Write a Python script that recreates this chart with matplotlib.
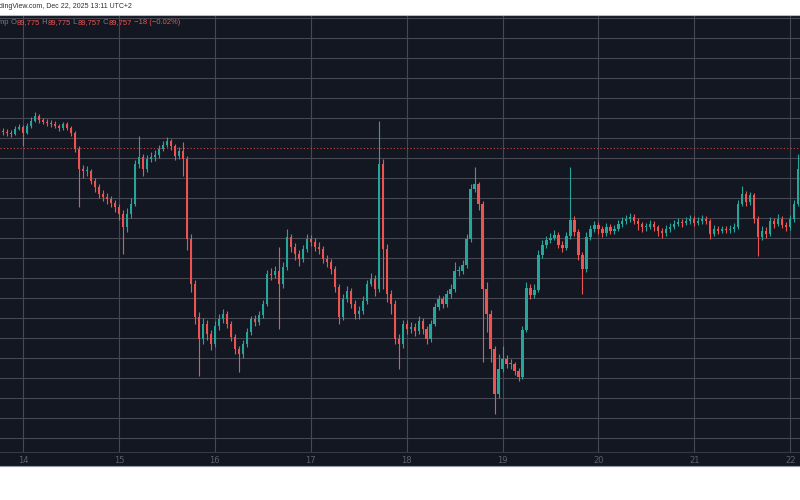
import matplotlib
matplotlib.use("Agg")
import matplotlib.pyplot as plt
import numpy as np
from matplotlib.patches import Rectangle
from matplotlib.lines import Line2D

# hourly candles, hour 0 = Dec 14 00:00 (UTC+2); first candle is Dec 13 18:00
FIRST_HOUR = -6
FIRST_OPEN = 90210

CLOSES = [
    90182, 90157, 90132, 90107, 90232, 90282,
    90132, 90307, 90432, 90557, 90457, 90407, 90382, 90357, 90307, 90257,
    90357, 90257, 90132, 89732, 89232, 89182, 89182, 88932, 88782, 88607,
    88532, 88482, 88382, 88282, 88107, 87782, 88107, 88357, 89357, 89532,
    89232, 89482, 89532, 89582, 89732, 89832, 89932, 89807, 89557, 89682,
    89482, 87482, 86357, 85532, 84982, 85357, 85107, 84857, 85307, 85482,
    85607, 85357, 85032, 84732, 84607, 84857, 85157, 85482, 85407, 85582,
    85857, 86607, 86582, 86682, 86357, 86782, 87532, 87282, 87107, 86982,
    87232, 87482, 87407, 87282, 87232, 86982, 86907, 86732, 86282, 85532,
    85982, 86182, 85857, 85607, 85682, 85932, 86357, 86482, 86232, 89357,
    87232, 86107, 85857, 84982, 84857, 85357, 85232, 85282, 85182, 85432,
    85232, 84982, 85357, 85782, 85982, 85857, 86107, 86232, 86682, 86682,
    86832, 87482, 88732, 88857, 88357, 86232, 85607, 84732, 83607, 84232,
    84482, 84357, 84357, 84182, 84032, 85207, 86257, 86082, 86207, 87082,
    87332, 87457, 87507, 87582, 87332, 87257, 87557, 87957, 87657, 87082,
    86732, 87532, 87732, 87832, 87732, 87632, 87782, 87682, 87732, 87857,
    87932, 87982, 88032, 87932, 87857, 87782, 87782, 87857, 87782, 87682,
    87632, 87732, 87782, 87857, 87907, 87882, 87932, 87982, 87882, 87932,
    87982, 87932, 87607, 87732, 87682, 87732, 87707, 87732, 87782, 88357,
    88607, 88407, 88582, 87982, 87532, 87682, 87607, 87932, 87857, 87982,
    87832, 87782, 87982, 88357, 89232,
]

HIGHS = [
    90300, 90260, 90230, 90200, 90290, 90360,
    90330, 90380, 90520, 90640, 90600, 90510, 90470, 90450, 90420, 90350,
    90410, 90400, 90300, 90180, 89800, 89330, 89290, 89230, 89010, 88850,
    88700, 88620, 88560, 88450, 88350, 88200, 88250, 88500, 89450, 90060,
    89600, 89580, 89650, 89700, 89820, 89930, 90020, 89980, 89850, 89780,
    89900, 89560, 87600, 86450, 85650, 85500, 85450, 85200, 85420, 85600,
    85720, 85680, 85420, 85100, 84800, 84950, 85250, 85560, 85580, 85680,
    85950, 86700, 86750, 86800, 87280, 86900, 87730, 87600, 87380, 87200,
    87330, 87600, 87580, 87500, 87400, 87300, 87080, 86980, 86800, 86350,
    86100, 86300, 86250, 85950, 85800, 86050, 86450, 86620, 86580, 90430,
    89480, 87350, 86200, 85950, 85100, 85450, 85450, 85400, 85380, 85550,
    85500, 85300, 85450, 85880, 86080, 86050, 86200, 86350, 86910, 86800,
    86950, 87600, 88850, 89280, 88900, 88420, 86400, 85700, 84800, 84600,
    84800, 84580, 84480, 84400, 84250, 85300, 86400, 86350, 86350, 87200,
    87450, 87560, 87620, 87700, 87650, 87420, 87650, 89280, 88050, 87720,
    87150, 87650, 87830, 87920, 87900, 87800, 87870, 87850, 87820, 87950,
    88020, 88080, 88120, 88100, 88000, 87900, 87880, 87950, 87920, 87820,
    87750, 87820, 87880, 87950, 88000, 87980, 88030, 88080, 88050, 88020,
    88070, 88050, 87980, 87830, 87800, 87810, 87800, 87820, 87880, 88450,
    88810, 88680, 88660, 88620, 88050, 87800, 87780, 88030, 88000, 88100,
    88050, 87900, 88080, 88450, 89610,
]

LOWS = [
    90100, 90080, 90040, 90020, 90070, 90190,
    89790, 90090, 90260, 90400, 90380, 90340, 90300, 90280, 90240, 90180,
    90210, 90200, 90060, 89650, 88280, 89000, 89050, 88850, 88650, 88500,
    88420, 88350, 88280, 88150, 87950, 87110, 87650, 88000, 88300, 89250,
    89050, 89150, 89400, 89430, 89500, 89680, 89780, 89700, 89450, 89480,
    89040, 87200, 86150, 85350, 84050, 84850, 84950, 84700, 84780, 85200,
    85380, 85250, 84920, 84600, 84160, 84500, 84780, 85080, 85300, 85330,
    85500, 85800, 86450, 86500, 85230, 86250, 86700, 87150, 86950, 86800,
    86900, 87150, 87300, 87180, 87100, 86880, 86780, 86600, 86150, 85360,
    85450, 85900, 85750, 85480, 85480, 85600, 85850, 86300, 86050, 86150,
    86230, 85900, 85600, 84850, 84230, 84750, 85100, 85130, 85050, 85100,
    85100, 84850, 84900, 85300, 85700, 85750, 85780, 86000, 86150, 86550,
    86600, 86750, 87400, 88650, 88200, 84410, 85150, 84400, 83110, 83500,
    84150, 84250, 84230, 84080, 83930, 83980, 85150, 85980, 85990, 86150,
    87000, 87250, 87380, 87450, 87250, 87150, 87200, 87480, 87550, 86950,
    86110, 86650, 87450, 87650, 87600, 87520, 87550, 87600, 87600, 87680,
    87780, 87850, 87900, 87850, 87700, 87650, 87680, 87720, 87680, 87550,
    87500, 87560, 87650, 87720, 87800, 87780, 87820, 87850, 87800, 87820,
    87860, 87850, 87480, 87550, 87600, 87620, 87620, 87630, 87650, 87720,
    88300, 88300, 88320, 87880, 87060, 87450, 87500, 87550, 87750, 87800,
    87750, 87680, 87700, 87900, 88300,
]

DAY_LABELS = ["14", "15", "16", "17", "18", "19", "20", "21", "22"]
LAST_PRICE = 89757
LEGEND_KEYS = ["O", "H", "L", "C"]
LEGEND_VALUES = ["89,775", "89,775", "89,757", "89,757"]
LEGEND_CHANGE = "\u221218 (\u22120.02%)"
HEADER = "dingView.com, Dec 22, 2025 13:11 UTC+2"

BG = "#131722"
GRID = "#464954"
UP = "#26a69a"
DOWN = "#ef5350"
LABEL_GREY = "#787b86"

W, H = 800, 500


def fig_box(left, top, right, bottom):
    """pixel box (top-left origin) -> figure fraction [l, b, w, h]"""
    return [left / W, 1 - bottom / H, (right - left) / W, (bottom - top) / H]


fig = plt.figure(figsize=(8, 5), dpi=100, facecolor="white")

# dark chart pane incl. time axis strip
l, b, w, h = fig_box(0, 15, 800, 466)
fig.add_artist(Rectangle((l, b), w, h, transform=fig.transFigure,
                         facecolor=BG, edgecolor="none", zorder=0))
fig.add_artist(Line2D([0, 1], [1 - 15 / H] * 2, transform=fig.transFigure,
                      color="#b8bbc4", lw=0.8, zorder=1))
fig.add_artist(Line2D([0, 1], [1 - 466 / H] * 2, transform=fig.transFigure,
                      color="#9598a1", lw=0.8, zorder=1))

ax = fig.add_axes(fig_box(0, 15, 800, 452))
ax.set_facecolor(BG)

hours = np.arange(FIRST_HOUR, FIRST_HOUR + len(CLOSES))
closes = np.array(CLOSES, dtype=float)
opens = np.r_[FIRST_OPEN, closes[:-1]]
highs = np.array(HIGHS, dtype=float)
lows = np.array(LOWS, dtype=float)
up = closes >= opens
colors = np.where(up, UP, DOWN)

ax.vlines(hours, lows, highs, colors=colors, linewidth=0.8, zorder=3)
body_bottom = np.minimum(opens, closes)
body_height = np.maximum(np.abs(closes - opens), 25)
ax.bar(hours, body_height, bottom=body_bottom, width=0.55, color=colors,
       linewidth=0, zorder=4)

# last price line
ax.axhline(LAST_PRICE, color=DOWN, lw=0.8, ls=(0, (1, 2)), alpha=0.8, zorder=2)

# 1 px = 25 price units, 90000 sits on pixel row 138
ax.set_ylim(90000 - (452 - 138) * 25, 90000 + (138 - 15) * 25)
ax.set_xlim(-23 / 3.996, 777 / 3.996)

ax.set_yticks(np.arange(82500, 93001, 500))
ax.set_yticklabels([])
ax.set_xticks(np.arange(len(DAY_LABELS)) * 24)
ax.set_xticklabels(DAY_LABELS)
ax.grid(True, color=GRID, lw=0.8, zorder=1)
ax.set_axisbelow(True)
ax.tick_params(length=0, pad=3, labelsize=6, labelcolor="#5d606b")
ax.tick_params(axis="y", left=False, labelleft=False)
for side in ["top", "left", "right"]:
    ax.spines[side].set_visible(False)
ax.spines["bottom"].set_color("#363a45")
ax.spines["bottom"].set_linewidth(0.8)

# header in the white strip
fig.text(-0.001, 1 - 7 / H, HEADER, fontsize=5, color="#2a2e39",
         va="center", ha="left", family="Liberation Sans")

# OHLC legend inside pane
prev = fig.text(-0.002, 1 - 23 / H, "mp ", fontsize=5.5, color=LABEL_GREY,
                va="center", ha="left", family="Liberation Sans")
pieces = []
for i, (k, v) in enumerate(zip(LEGEND_KEYS, LEGEND_VALUES)):
    pieces.append(((" " if i else "") + k, LABEL_GREY))
    pieces.append((v, DOWN))
pieces.append((" " + LEGEND_CHANGE, DOWN))
for txt, col in pieces:
    prev = ax.annotate(txt, xy=(1, 0), xycoords=prev, va="bottom", ha="left",
                       fontsize=5.5, color=col, family="Liberation Sans",
                       annotation_clip=False)

fig.savefig("out.png", dpi=100, facecolor="white")
